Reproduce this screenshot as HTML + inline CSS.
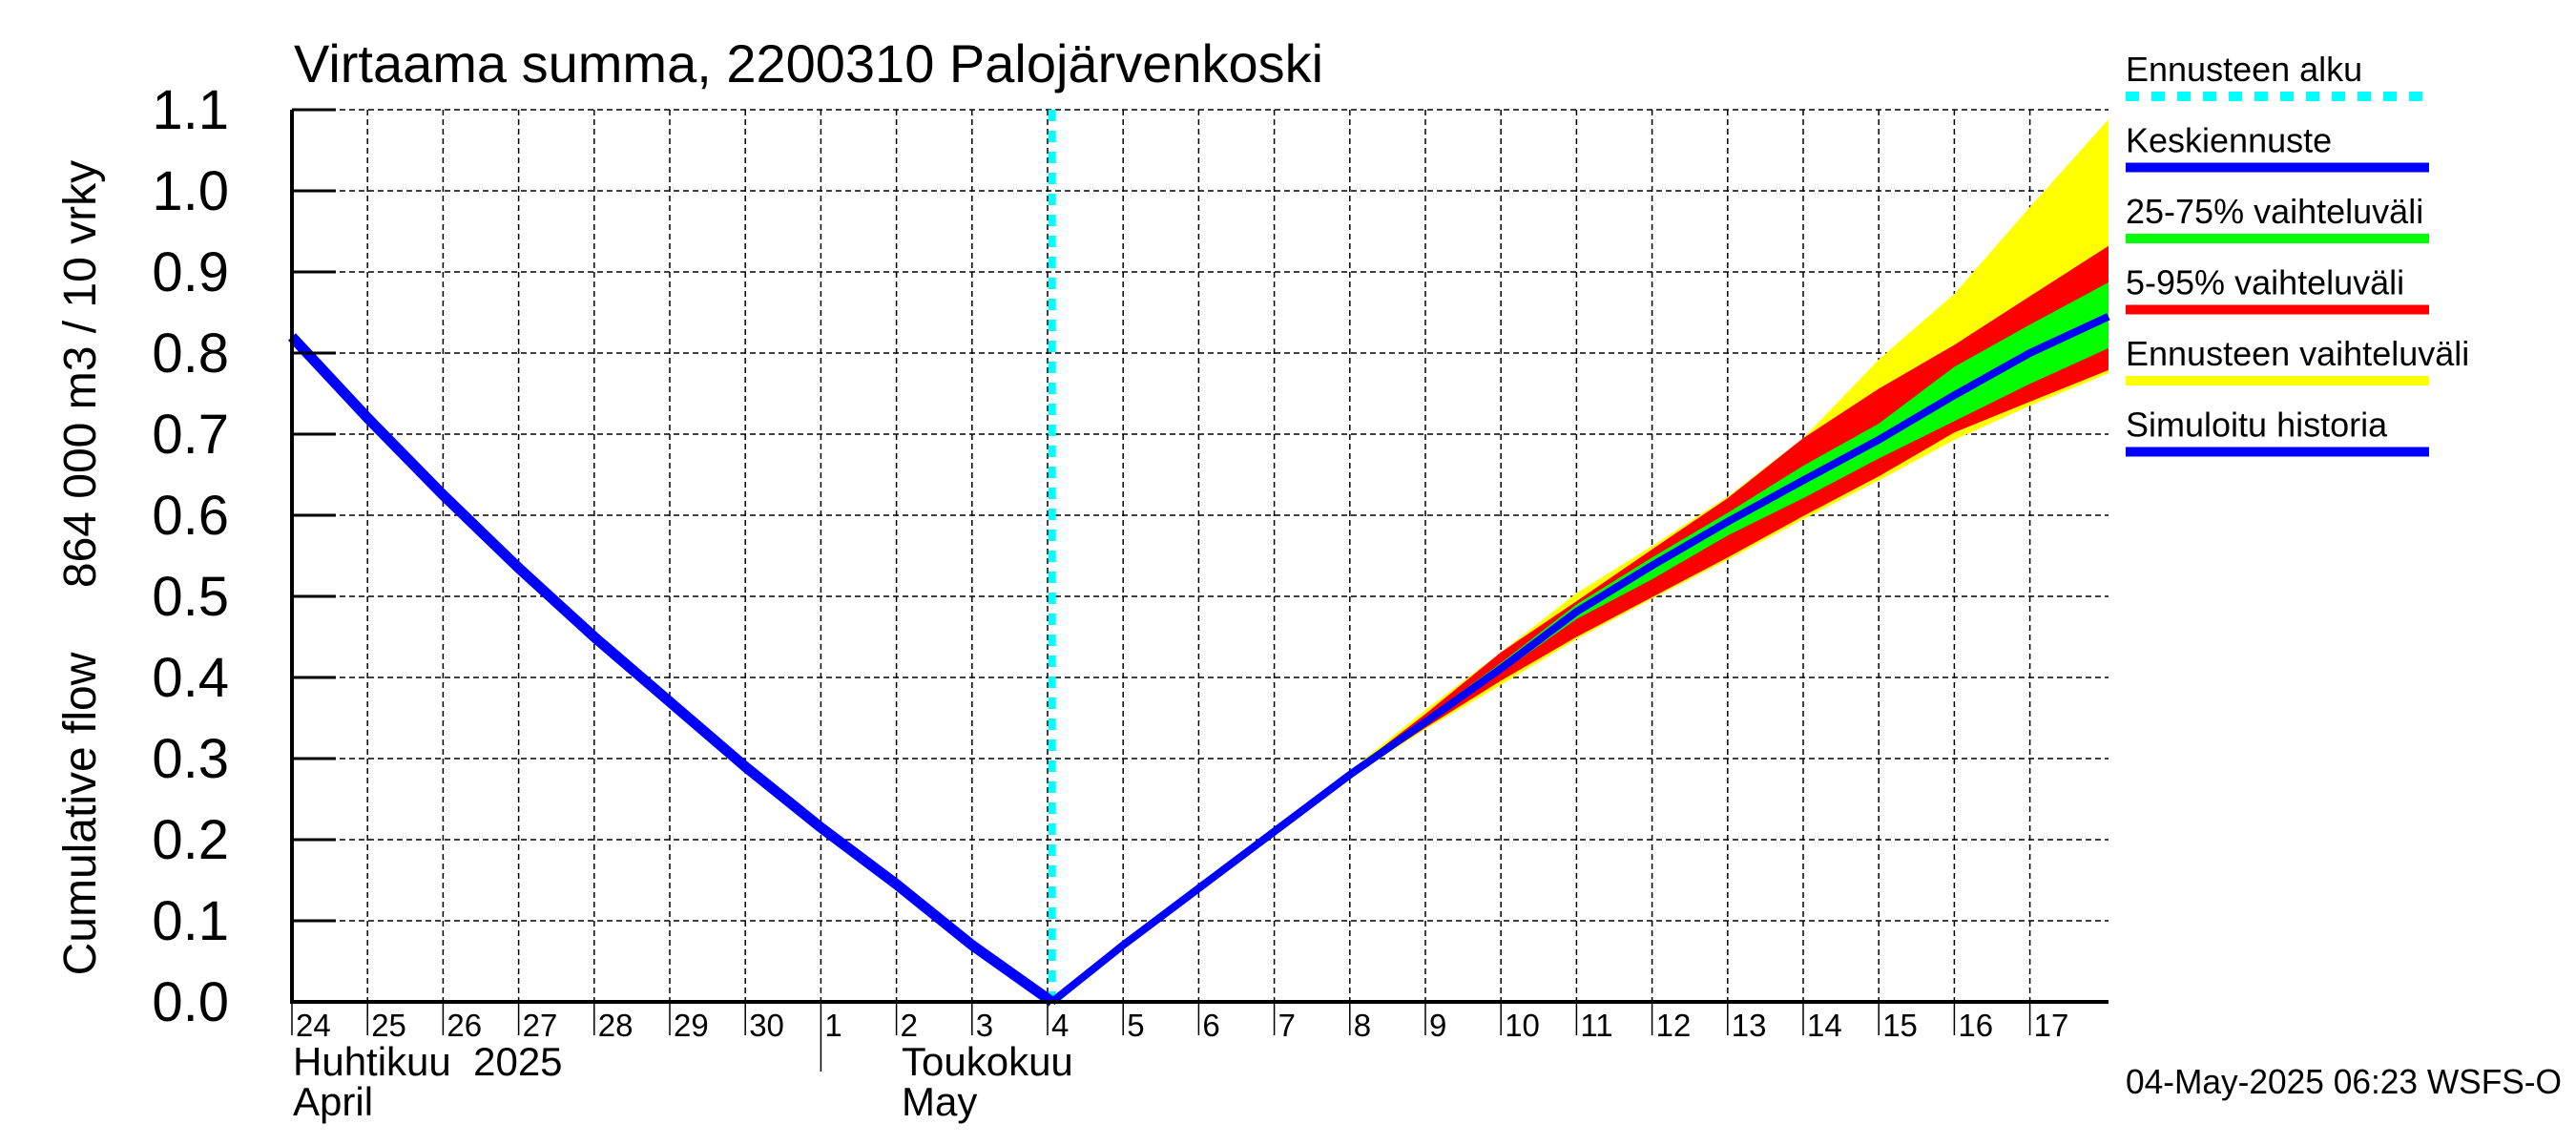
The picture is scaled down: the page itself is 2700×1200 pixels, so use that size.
<!DOCTYPE html>
<html><head><meta charset="utf-8"><style>
html,body{margin:0;padding:0;background:#fff;}
svg{display:block;font-family:"Liberation Sans",sans-serif;}
text{white-space:pre;}
</style></head><body>
<svg id="chart" width="2700" height="1200" viewBox="0 0 2700 1200" xmlns="http://www.w3.org/2000/svg">
<text x="308" y="86" font-size="56">Virtaama summa, 2200310 Palojärvenkoski</text>
<g id="grid"></g>
<g id="bands"></g>
<g id="lines"></g>
<g id="axes"></g>
<text transform="translate(100,853) rotate(-90)" font-size="48" text-anchor="middle">Cumulative flow</text>
<text transform="translate(100,392) rotate(-90)" font-size="48" text-anchor="middle">864 000 m3 / 10 vrky</text>
<text x="307" y="1127" font-size="42" xml:space="preserve">Huhtikuu  2025</text>
<text x="307" y="1169" font-size="42">April</text>
<text x="945" y="1127" font-size="42">Toukokuu</text>
<text x="945" y="1169" font-size="42">May</text>
<text x="2228" y="1146" font-size="36" textLength="457" lengthAdjust="spacingAndGlyphs">04-May-2025 06:23 WSFS-O</text>
<g id="legend"></g>
</svg>
<script>
const dayLabels=["24","25","26","27","28","29","30","1","2","3","4","5","6","7","8","9","10","11","12","13","14","15","16","17"];
const yTicks=[0,0.1,0.2,0.3,0.4,0.5,0.6,0.7,0.8,0.9,1.0,1.1];
const histDays=[0,1,2,3,4,5,6,7,8,9,10.06];
const histVals=[0.82,0.72,0.625,0.535,0.45,0.37,0.29,0.215,0.145,0.07,0];
const fcDays=[10.06,11,12,13,14,15,16,17,18,19,20,21,22,23,24.04];
const median=[0,0.07,0.14,0.21,0.28,0.345,0.411,0.481,0.538,0.592,0.643,0.693,0.748,0.80,0.845];
const p25=[0,0.07,0.14,0.21,0.279,0.342,0.406,0.472,0.521,0.575,0.621,0.670,0.716,0.762,0.806];
const p75=[0,0.07,0.14,0.21,0.281,0.35,0.418,0.49,0.548,0.603,0.661,0.713,0.783,0.835,0.887];
const p5=[0,0.07,0.14,0.21,0.277,0.338,0.396,0.45,0.499,0.548,0.599,0.648,0.702,0.74,0.779];
const p95=[0,0.07,0.14,0.21,0.283,0.355,0.431,0.494,0.558,0.621,0.695,0.756,0.81,0.87,0.932];
const minV=[0,0.07,0.14,0.21,0.276,0.336,0.391,0.447,0.497,0.545,0.595,0.643,0.693,0.735,0.775];
const maxV=[0,0.07,0.14,0.21,0.285,0.36,0.431,0.504,0.562,0.623,0.695,0.792,0.873,0.98,1.088];
const legendLabels=["Ennusteen alku","Keskiennuste","25-75% vaihteluväli","5-95% vaihteluväli","Ennusteen vaihteluväli","Simuloitu historia"];
const legendColors=["#00ffff","#0000ff","#00ff00","#ff0000","#ffff00","#0000ff"];

const NS="http://www.w3.org/2000/svg";
const X0=306,X1=2210,Y0=1050,Y1=115,PXD=79.2;
const x=d=>X0+d*PXD;
const y=v=>Y0-(v/1.1)*(Y0-Y1);
function mk(tag,attrs,parent){const e=document.createElementNS(NS,tag);for(const k in attrs)e.setAttribute(k,attrs[k]);parent.appendChild(e);return e;}
const grid=document.getElementById('grid'),axes=document.getElementById('axes'),bands=document.getElementById('bands'),lines=document.getElementById('lines'),legend=document.getElementById('legend');
yTicks.forEach((v,i)=>{
  if(i>0){const g=mk('line',{x1:X0,x2:X1,y1:y(v),y2:y(v),stroke:'#000','stroke-width':1.5,'stroke-dasharray':'6,4'},grid);
  }
  const t=mk('line',{x1:X0,x2:X0+46,y1:y(v),y2:y(v),stroke:'#000','stroke-width':3},axes);
  
  const l=mk('text',{x:240,y:y(v)+20,'font-size':58,'text-anchor':'end'},axes);l.textContent=v.toFixed(1);
  
});
dayLabels.forEach((s,i)=>{
  if(i>0){const g=mk('line',{x1:x(i),x2:x(i),y1:Y1,y2:Y0,stroke:'#000','stroke-width':1.5,'stroke-dasharray':'6,4'},grid);
  }
  const t=mk('line',{x1:x(i),x2:x(i),y1:Y0,y2:Y0+(i==7?73:35),stroke:'#000','stroke-width':1.5},axes);
  
  const l=mk('text',{x:x(i)+4,y:1086,'font-size':33},axes);l.textContent=s;
  
});
function band(lo,hi,col,name){
  let pts=fcDays.map((d,i)=>x(d)+','+y(hi[i]));
  pts=pts.concat(fcDays.map((d,i)=>x(d)+','+y(lo[i])).reverse());
  const p=mk('polygon',{points:pts.join(' '),fill:col},bands);
  
}
band(minV,maxV,'#ffff00','band-min-max');
band(p5,p95,'#ff0000','band-5-95');
band(p25,p75,'#00ff00','band-25-75');
const cy=mk('line',{x1:x(histDays[histDays.length-1]),x2:x(histDays[histDays.length-1]),y1:Y1,y2:Y0,stroke:'#00ffff','stroke-width':8,'stroke-dasharray':'12,10'},lines);

const h=mk('polyline',{points:histDays.map((d,i)=>x(d)+','+y(histVals[i])).join(' '),fill:'none',stroke:'#0000ff','stroke-width':11},lines);

const m=mk('polyline',{points:fcDays.map((d,i)=>x(d)+','+y(median[i])).join(' '),fill:'none',stroke:'#0000ff','stroke-width':8},lines);

const ax1=mk('line',{x1:X0,x2:X0,y1:Y1,y2:Y0+2,stroke:'#000','stroke-width':4},axes);

const ax2=mk('line',{x1:X0,x2:X1,y1:Y0,y2:Y0,stroke:'#000','stroke-width':4},axes);

legendLabels.forEach((s,i)=>{
  const by=85+i*74.5;
  const t=mk('text',{x:2228,y:by,'font-size':36},legend);t.textContent=s;
  
  const l=mk('line',{x1:2228,x2:2546,y1:by+16,y2:by+16,stroke:legendColors[i],'stroke-width':10},legend);
  if(i==0)l.setAttribute('stroke-dasharray','14,13');
  
});
</script>
</body></html>
